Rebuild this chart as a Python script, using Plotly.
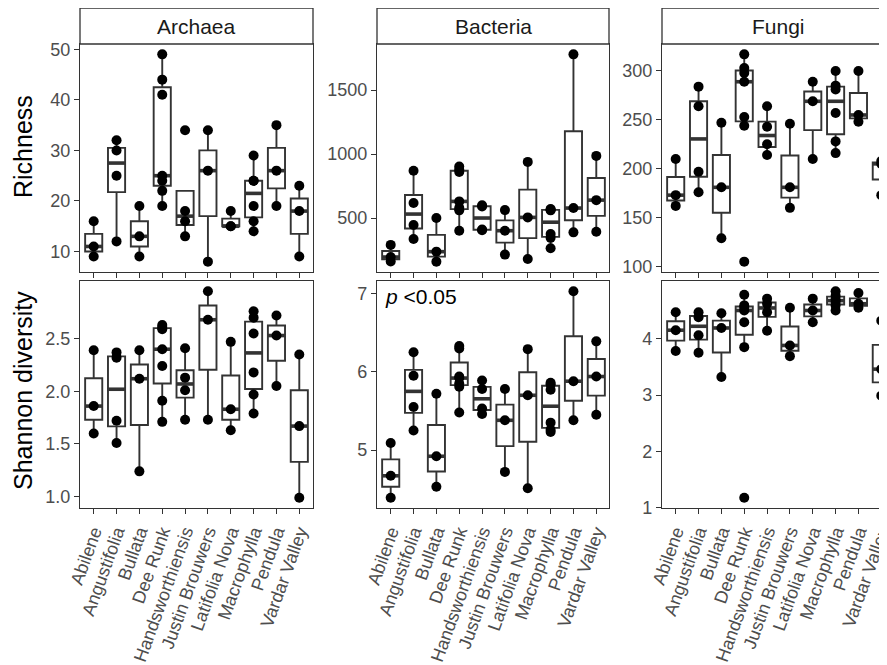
import numpy as np
import plotly.graph_objects as go

# ---------------- data ----------------
CATEGORIES = ["Abilene", "Angustifolia", "Bullata", "Dee Runk", "Handsworthiensis",
              "Justin Brouwers", "Latifolia Nova", "Macrophylla", "Pendula", "Vardar Valley"]
GROUPS = ["Archaea", "Bacteria", "Fungi"]
METRICS = ["Richness", "Shannon diversity"]

ARCHAEA_RICHNESS = [
    [9, 11, 16], [12, 25, 30, 32], [9, 13, 19], [19, 22, 24, 25, 41, 44, 49],
    [13, 16, 18, 34], [8, 26, 34], [15, 15, 18], [14, 16, 19, 24, 24, 29],
    [19, 26, 35], [9, 18, 23],
]
BACTERIA_RICHNESS = [
    [160, 195, 290], [336, 445, 617, 870], [159, 237, 500], [401, 560, 580, 630, 860, 880, 903],
    [405, 410, 590, 600], [214, 401, 562], [180, 505, 939], [264, 345, 375, 560, 565, 570],
    [388, 578, 1780], [393, 640, 986],
]
FUNGI_RICHNESS = [
    [162, 173, 210], [176, 197, 264, 284], [129, 181, 247], [105, 244, 253, 289, 298, 303, 317],
    [214, 225, 243, 264], [160, 181, 246], [210, 269, 289], [216, 228, 257, 281, 285, 300],
    [248, 255, 300], [173, 205, 208],
]
ARCHAEA_SHANNON = [
    [1.60, 1.86, 2.39], [1.51, 1.72, 2.32, 2.37], [1.24, 2.12, 2.39],
    [1.71, 1.91, 2.24, 2.40, 2.59, 2.61, 2.63], [1.73, 2.01, 2.13, 2.41], [1.73, 2.68, 2.95],
    [1.63, 1.83, 2.47], [1.79, 1.97, 2.18, 2.55, 2.70, 2.76], [2.05, 2.53, 2.72], [0.99, 1.67, 2.35],
]
BACTERIA_SHANNON = [
    [4.39, 4.67, 5.09], [5.25, 5.55, 5.95, 6.25], [4.53, 4.92, 5.72],
    [5.48, 5.81, 5.85, 5.92, 5.94, 6.30, 6.33], [5.46, 5.53, 5.78, 5.89], [4.72, 5.38, 5.78],
    [4.51, 5.70, 6.29], [5.23, 5.26, 5.35, 5.77, 5.84, 5.86], [5.38, 5.88, 7.03], [5.45, 5.94, 6.39],
]
FUNGI_SHANNON = [
    [3.78, 4.15, 4.47], [3.75, 4.06, 4.38, 4.47], [3.32, 4.19, 4.45],
    [1.18, 3.85, 4.29, 4.50, 4.55, 4.59, 4.78], [4.14, 4.47, 4.62, 4.71], [3.69, 3.88, 4.55],
    [4.29, 4.50, 4.71], [4.50, 4.59, 4.65, 4.70, 4.76, 4.84], [4.55, 4.62, 4.81], [2.99, 3.46, 4.32],
]

Y_TICKS = {
    (0, 0): [10, 20, 30, 40, 50], (1, 0): [500, 1000, 1500], (2, 0): [100, 150, 200, 250, 300],
    (0, 1): [1.0, 1.5, 2.0, 2.5], (1, 1): [5, 6, 7], (2, 1): [1, 2, 3, 4],
}
Y_TICKTEXT = {
    (0, 1): ["1.0", "1.5", "2.0", "2.5"],
}
P_LABEL = "<i>p</i> <0.05"

PANELS = {
    (0, 0): ARCHAEA_RICHNESS, (1, 0): BACTERIA_RICHNESS, (2, 0): FUNGI_RICHNESS,
    (0, 1): ARCHAEA_SHANNON, (1, 1): BACTERIA_SHANNON, (2, 1): FUNGI_SHANNON,
}

# ---------------- layout geometry (pixels of the target picture) ----------------
W, H = 887, 665
OFF = 8  # the page body adds an 8px margin around the figure
COLS_PX = [(80, 313), (377, 609), (662, 894)]
ROWS_PX = [(44, 272), (281, 508)]
STRIP_PX = (8, 44)
UNIT = (313 - 80) / 10.2  # px per category

FONT = "Liberation Sans, Arial, Helvetica, sans-serif"
LINE = "#333333"
TICKC = "#4d4d4d"


def px_x(p):
    return min((p - OFF) / W, 1.0)


def px_y(p):
    return min(1 - (p - OFF) / H, 1.0)


def box_stats(vals):
    v = np.array(sorted(vals), dtype=float)
    q1, med, q3 = np.percentile(v, [25, 50, 75])
    iqr = q3 - q1
    lo = v[v >= q1 - 1.5 * iqr].min()
    hi = v[v <= q3 + 1.5 * iqr].max()
    return q1, med, q3, min(lo, q1), max(hi, q3)


fig = go.Figure()
BOX_W = 0.75

for (c, r), data in PANELS.items():
    k = r * 3 + c + 1
    xa = "x" if k == 1 else f"x{k}"
    ya = "y" if k == 1 else f"y{k}"
    xs = list(range(len(CATEGORIES)))
    stats = [box_stats(d) for d in data]
    fig.add_trace(go.Box(
        x=xs,
        q1=[s[0] for s in stats], median=[s[1] for s in stats], q3=[s[2] for s in stats],
        lowerfence=[s[3] for s in stats], upperfence=[s[4] for s in stats],
        width=BOX_W, whiskerwidth=0, fillcolor="white",
        line=dict(color=LINE, width=1.9), boxpoints=False,
        xaxis=xa, yaxis=ya, showlegend=False, hoverinfo="skip",
    ))
    mx, my = [], []
    for i, s in enumerate(stats):
        mx += [i - BOX_W / 2, i + BOX_W / 2, None]
        my += [s[1], s[1], None]
    fig.add_trace(go.Scatter(x=mx, y=my, mode="lines", line=dict(color=LINE, width=3.6),
                             xaxis=xa, yaxis=ya, showlegend=False, hoverinfo="skip"))
    px_, py_ = [], []
    for i, d in enumerate(data):
        px_ += [i] * len(d)
        py_ += list(d)
    fig.add_trace(go.Scatter(x=px_, y=py_, mode="markers",
                             marker=dict(color="black", size=10),
                             xaxis=xa, yaxis=ya, showlegend=False, hoverinfo="skip"))

    allv = [v for d in data for v in d]
    lo, hi = min(allv), max(allv)
    pad = 0.05 * (hi - lo)
    x0, x1 = COLS_PX[c]
    y0, y1 = ROWS_PX[r]
    d0, d1 = px_x(x0), px_x(x1)
    xr_end = -0.6 + (d1 - d0) * W / UNIT
    axstyle = dict(showline=True, linecolor=LINE, linewidth=1.3, ticks="outside",
                   ticklen=5, tickwidth=1.3, tickcolor=LINE, showgrid=False, zeroline=False,
                   automargin=False)
    fig.layout[f"xaxis{k}" if k > 1 else "xaxis"] = dict(
        domain=[d0, d1], range=[-0.6, xr_end], anchor=ya,
        tickmode="array", tickvals=xs, ticktext=CATEGORIES, showticklabels=(r == 1),
        tickangle=-70, tickfont=dict(family=FONT, size=18, color=TICKC), mirror=True, **axstyle)
    fig.layout[f"yaxis{k}" if k > 1 else "yaxis"] = dict(
        domain=[px_y(y1), px_y(y0)], range=[lo - pad, hi + pad], anchor=xa,
        tickmode="array", tickvals=Y_TICKS[(c, r)],
        ticktext=Y_TICKTEXT.get((c, r), [str(t) for t in Y_TICKS[(c, r)]]),
        tickfont=dict(family=FONT, size=18, color=TICKC), mirror=True, **axstyle)

shapes, annotations = [], []
for c, g in enumerate(GROUPS):
    x0, x1 = COLS_PX[c]
    shapes.append(dict(type="rect", xref="paper", yref="paper",
                       x0=px_x(x0), x1=px_x(x1), y0=px_y(STRIP_PX[1]), y1=px_y(STRIP_PX[0]),
                       line=dict(color=LINE, width=1.3), fillcolor="white", layer="above"))
    annotations.append(dict(text=g, xref="paper", yref="paper", x=px_x((x0 + x1) / 2),
                            y=px_y((STRIP_PX[0] + STRIP_PX[1]) / 2), showarrow=False,
                            xanchor="center", yanchor="middle",
                            font=dict(family=FONT, size=21, color="#1a1a1a")))

annotations.append(dict(text=METRICS[0], xref="paper", yref="paper", x=px_x(23), y=px_y(147),
                        textangle=-90, showarrow=False, xanchor="center", yanchor="middle",
                        font=dict(family=FONT, size=25, color="black")))
annotations.append(dict(text=METRICS[1], xref="paper", yref="paper", x=px_x(23), y=px_y(391),
                        textangle=-90, showarrow=False, xanchor="center", yanchor="middle",
                        font=dict(family=FONT, size=25, color="black")))
annotations.append(dict(text=P_LABEL, xref="paper", yref="paper", x=px_x(383), y=px_y(296),
                        showarrow=False, xanchor="left", yanchor="middle",
                        font=dict(family=FONT, size=21, color="black")))

fig.update_layout(template="none", width=W, height=H, margin=dict(l=0, r=0, t=0, b=0, pad=0),
                  paper_bgcolor="white", plot_bgcolor="white",
                  shapes=shapes, annotations=annotations, showlegend=False)

fig.write_html("out.html")
